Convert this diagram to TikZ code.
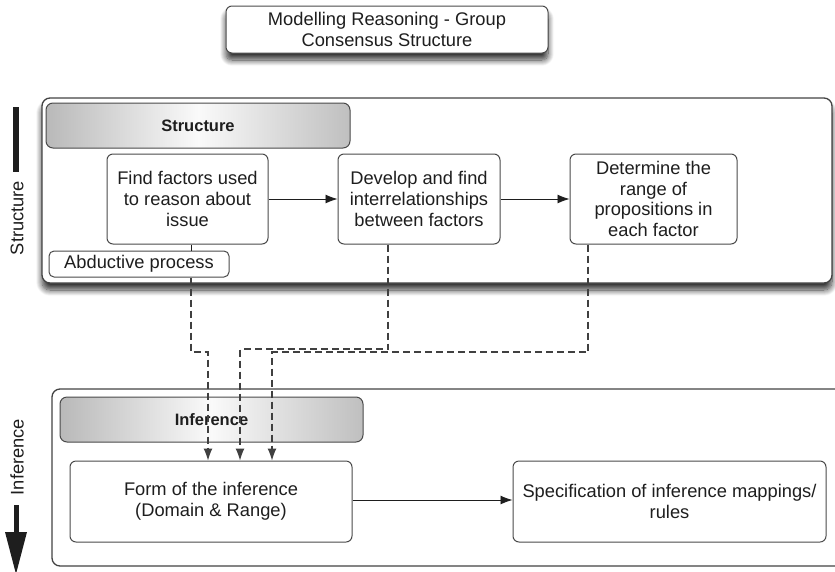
\documentclass[tikz,border=0pt]{standalone}
\usepackage{fontspec}
\setmainfont{Liberation Sans}
\usetikzlibrary{arrows.meta,shadows.blur,calc}

\definecolor{edge}{HTML}{4A4A4A}
\definecolor{ink}{HTML}{1E1E1E}

\tikzset{
  txt/.style={font=\fontsize{18.3}{20.8}\selectfont, text=ink},
  box/.style={txt, draw=edge, line width=1pt, rounded corners=6pt, fill=white,
    align=center, inner sep=0pt},
  panel/.style={draw=edge!90!black, line width=1.3pt, rounded corners=8pt, fill=white,
    inner sep=0pt},
  band/.style={draw=edge, line width=1pt, rounded corners=7pt, inner sep=0pt,
    left color=gray!55, right color=gray!50, middle color=gray!4,
    font=\bfseries\fontsize{16.5}{19}\selectfont, text=ink},
  softshadow/.style={blur shadow={shadow xshift=0pt, shadow yshift=-7pt,
    shadow blur radius=6pt, shadow blur steps=12, shadow opacity=80}},
  flow/.style={draw=ink, line width=0.9pt, -{Latex[length=12pt,width=9pt]}},
  link/.style={draw=ink!85, line width=1.1pt, dash pattern=on 7pt off 4pt},
  linkto/.style={link, -{Latex[length=12pt,width=9pt]}},
}

\begin{document}
\begin{tikzpicture}[x=1pt,y=-1pt]
\useasboundingbox (0,0) rectangle (835,571);
\clip (0,0) rectangle (835,571);

% heading
\node[box, softshadow, minimum width=322pt, minimum height=47pt] (title) at (387,29.5)
  {Modelling Reasoning - Group\\Consensus Structure};

% structure panel
\node[panel, softshadow, minimum width=790pt, minimum height=185pt] (spanel) at (437,190.5) {};
\node[band, minimum width=304pt, minimum height=45pt] (shead) at (198,125.5) {Structure};
\node[box, minimum width=161pt, minimum height=90pt] (find) at (187.5,199)
  {Find factors used\\to reason about\\issue};
\node[box, minimum width=162pt, minimum height=90pt] (develop) at (419,199)
  {Develop and find\\interrelationships\\between factors};
\node[box, minimum width=167pt, minimum height=90pt] (determine) at (653.5,199)
  {Determine the\\range of\\propositions in\\each factor};
\node[box, rounded corners=5pt, minimum width=180pt, minimum height=26pt] (abd) at (139,264)
  {Abductive process};

% inference panel
\node[panel, minimum width=793pt, minimum height=177pt] (ipanel) at (448.5,477.5) {};
\node[band, minimum width=303pt, minimum height=45pt] (ihead) at (211.5,419.5) {Inference};
\node[box, minimum width=282pt, minimum height=81pt] (form) at (211,501.5)
  {Form of the inference\\(Domain \& Range)};
\node[box, minimum width=313pt, minimum height=81pt] (spec) at (669.5,501.5)
  {Specification of inference mappings/\\rules};

% side labels
\node[txt, rotate=90] (slabel) at (17,218) {Structure};
\node[txt, rotate=90] (ilabel) at (17,457) {Inference};
\fill[ink] (13,107) rectangle (18.5,172);
\fill[ink] (13.5,505) rectangle (18.5,534);
\fill[ink] (5,532) -- (27,532) -- (16,574) -- cycle;

% process flow
\draw[flow] (find.east |- 0,199) -- (develop.west |- 0,199);
\draw[flow] (develop.east |- 0,199) -- (determine.west |- 0,199);
\draw[flow] (form.east |- 0,500) -- (spec.west |- 0,500);

% links down to the inference
\coordinate (fa) at (191,352);
\coordinate (fb) at (208,352);
\coordinate (da) at (388,349);
\coordinate (db) at (240,349);
\coordinate (ea) at (588,352);
\coordinate (eb) at (272,352);
\draw[draw=ink, line width=1pt] (find.south -| fa) -- (abd.north -| fa);
\draw[linkto] (abd.south -| fa) -- (fa) -- (fb) -- (form.north -| fb);
\draw[linkto] (develop.south -| da) -- (da) -- (db) -- (form.north -| db);
\draw[linkto] (determine.south -| ea) -- (ea) -- (eb) -- (form.north -| eb);
\end{tikzpicture}
\end{document}
